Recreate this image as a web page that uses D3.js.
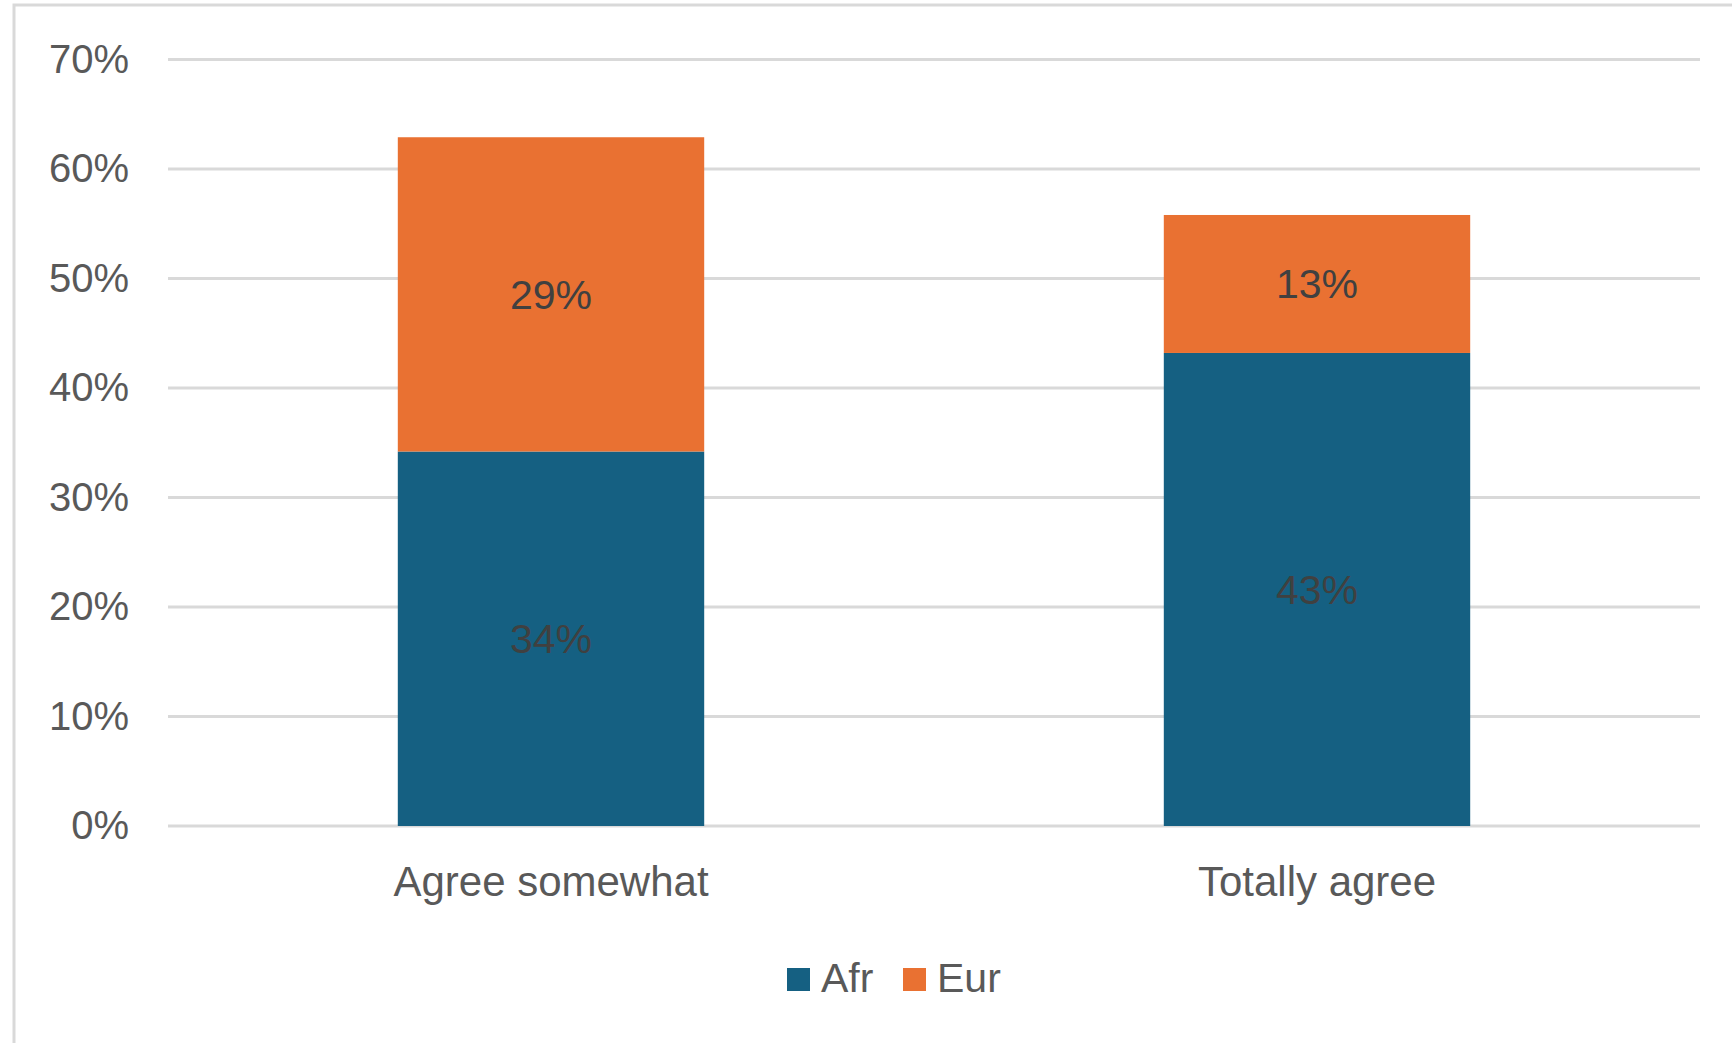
<!DOCTYPE html>
<html>
<head>
<meta charset="utf-8">
<script src="https://cdn.jsdelivr.net/npm/d3@7"></script>
<style>
  html, body { margin: 0; padding: 0; background: #fff; overflow: hidden; }
  text { font-family: "Liberation Sans", Arial, sans-serif; }
</style>
</head>
<body>
<div id="chart"></div>
<script>
// values
const categories = ["Agree somewhat", "Totally agree"];
const seriesNames = ["Afr", "Eur"];
const afrValues = [0.342, 0.432];
const eurValues = [0.287, 0.126];
const yTicks = [0, 0.1, 0.2, 0.3, 0.4, 0.5, 0.6, 0.7];
const colors = ["#156082", "#E97132"];

const width = 1732, height = 1043;
const margin = { top: 59.5, right: 32, bottom: 217, left: 168 };

const svg = d3.select("#chart")
  .append("svg")
  .attr("width", width)
  .attr("height", height);

// chart area border (runs off the right and bottom edges)
svg.append("rect")
  .attr("x", 14)
  .attr("y", 5)
  .attr("width", width + 20)
  .attr("height", height + 20)
  .attr("fill", "#fff")
  .attr("stroke", "#d9d9d9")
  .attr("stroke-width", 3)

const x = d3.scaleBand()
  .domain(categories)
  .range([margin.left, width - margin.right])
  .paddingInner(0.6)
  .paddingOuter(0.3)

const y = d3.scaleLinear()
  .domain([0, 0.7])
  .range([height - margin.bottom, margin.top])

// gridlines
svg.append("g")
  .selectAll("line")
  .data(yTicks)
  .enter()
  .append("line")
  .attr("x1", margin.left)
  .attr("x2", width - margin.right)
  .attr("y1", d => y(d))
  .attr("y2", d => y(d))
  .style("stroke", "#d9d9d9")
  .style("stroke-width", 3)

// y axis labels
const yAxis = d3.axisLeft(y)
  .tickValues(yTicks)
  .tickFormat(d3.format(".0%"))
  .tickSize(0)
  .tickPadding(39)

svg.append("g")
  .attr("transform", `translate(${margin.left},0)`)
  .call(yAxis)
  .call(g => g.select(".domain").remove())
  .call(g => g.selectAll("text")
    .attr("fill", "#595959")
    .style("font-size", "40px")
    .style("font-family", "'Liberation Sans', Arial, sans-serif"))

// stacked data
const rows = categories.map((c, i) => ({ category: c, Afr: afrValues[i], Eur: eurValues[i] }));
const stacked = d3.stack().keys(seriesNames)(rows);

const layers = svg.selectAll(".layer")
  .data(stacked)
  .enter()
  .append("g")
  .attr("class", "layer")
  .attr("fill", (d, i) => colors[i])

layers.selectAll("rect")
  .data(d => d)
  .enter()
  .append("rect")
  .attr("x", d => x(d.data.category))
  .attr("width", x.bandwidth())
  .attr("y", d => y(d[1]))
  .attr("height", d => y(d[0]) - y(d[1]))

// data labels
layers.selectAll(".lbl")
  .data(d => d.map(p => ({ p: p, key: d.key })))
  .enter()
  .append("text")
  .attr("class", "lbl")
  .attr("x", d => x(d.p.data.category) + x.bandwidth() / 2)
  .attr("y", d => (y(d.p[0]) + y(d.p[1])) / 2)
  .attr("dy", "0.35em")
  .attr("text-anchor", "middle")
  .attr("fill", "#404040")
  .style("font-size", "41px")
  .text(d => d3.format(".0%")(d.p.data[d.key]))

// x axis labels
const xAxis = d3.axisBottom(x).tickSize(0).tickPadding(40);
svg.append("g")
  .attr("transform", `translate(0,${height - margin.bottom})`)
  .call(xAxis)
  .call(g => g.select(".domain").remove())
  .call(g => g.selectAll("text")
    .attr("fill", "#595959")
    .style("font-size", "42px")
    .style("font-family", "'Liberation Sans', Arial, sans-serif"))

// legend
const legendX = [787, 903];
const legend = svg.append("g")
  .selectAll("g")
  .data(seriesNames)
  .enter()
  .append("g")
  .attr("transform", (d, i) => `translate(${legendX[i]},968)`)

legend.append("rect")
  .attr("width", 23)
  .attr("height", 23)
  .attr("fill", (d, i) => colors[i])

legend.append("text")
  .attr("x", 34)
  .attr("y", 24)
  .attr("fill", "#595959")
  .style("font-size", "41px")
  .text(d => d)
</script>
</body>
</html>
